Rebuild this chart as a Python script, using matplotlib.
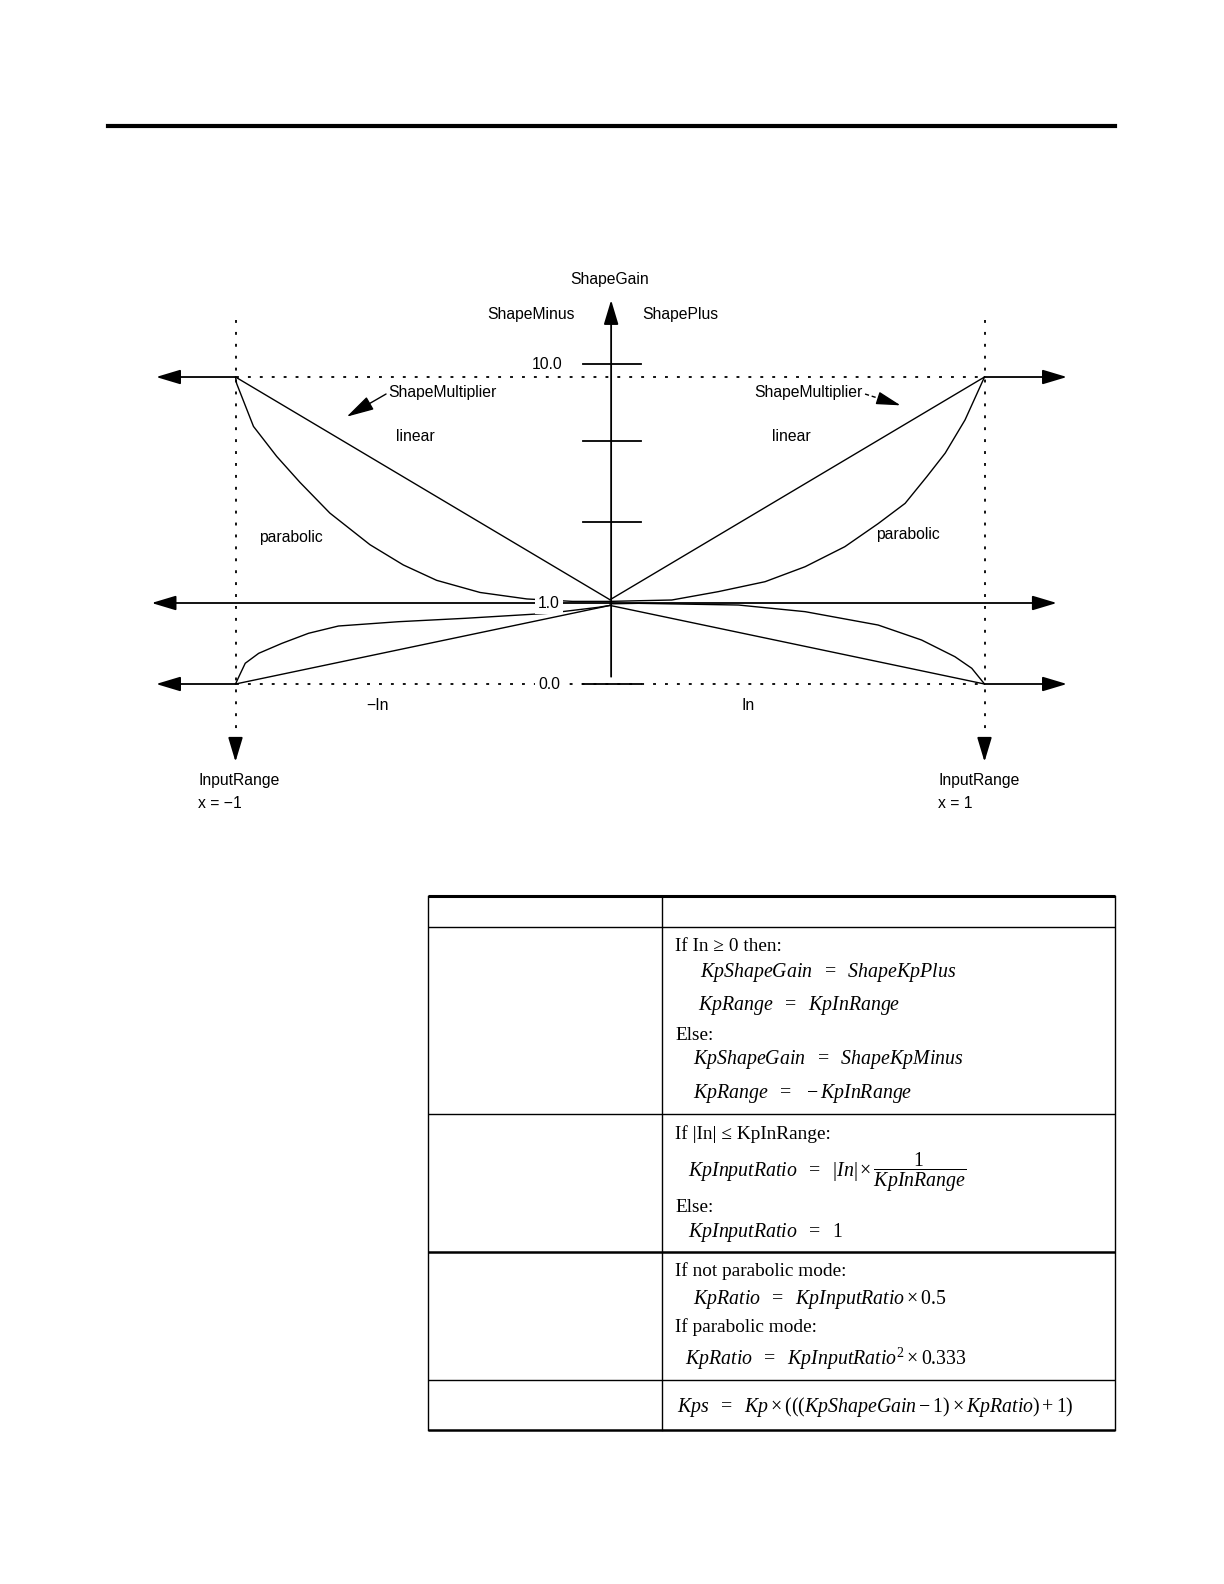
import numpy as np
import matplotlib.pyplot as plt
from matplotlib.lines import Line2D

plt.rcParams['mathtext.fontset'] = 'custom'
plt.rcParams['mathtext.rm'] = 'Liberation Serif'
plt.rcParams['mathtext.it'] = 'Liberation Serif:italic'

SANS = ['Liberation Sans Narrow', 'Liberation Sans', 'DejaVu Sans']
SERIF = ['Liberation Serif', 'DejaVu Serif']

# ---------------------------
# Diagram data (x = In / InputRange, y = schematic gain position)
# ---------------------------
top_level = 3.79          # ShapeMultiplier level
gain_ticks = [2.0, 3.0, 3.95]
gain_tick_labels = ['', '', '10.0']

upper_left_par_x = [-1.0, -0.997, -0.952, -0.89, -0.828, -0.748, -0.641, -0.552, -0.463,
                    -0.347, -0.222, -0.1, 0.0]
upper_left_par_y = [3.79, 3.71, 3.18, 2.81, 2.49, 2.11, 1.72, 1.47, 1.28,
                    1.13, 1.05, 1.02, 1.02]

upper_right_par_x = [0.0, 0.165, 0.289, 0.414, 0.521, 0.627, 0.716, 0.788, 0.846,
                     0.895, 0.948, 1.0]
upper_right_par_y = [1.02, 1.037, 1.14, 1.263, 1.448, 1.695, 1.98, 2.23, 2.56,
                     2.85, 3.26, 3.79]

lower_left_par_x = [-1.0, -0.99, -0.974, -0.938, -0.876, -0.805, -0.725, -0.565, -0.387,
                    -0.164, -0.031, 0.0]
lower_left_par_y = [0.0, 0.1, 0.256, 0.379, 0.502, 0.626, 0.716, 0.769, 0.811,
                    0.873, 0.947, 0.97]

lower_right_par_x = [0.0, 0.076, 0.343, 0.521, 0.716, 0.832, 0.921, 0.966, 1.0]
lower_right_par_y = [0.99, 0.996, 0.975, 0.893, 0.728, 0.543, 0.337, 0.194, 0.0]

linear_x = [-1.0, 0.0, 1.0]
linear_upper_y = [3.79, 1.04, 3.79]
linear_lower_y = [0.0, 0.97, 0.0]

# ---------------------------
# Table data
# ---------------------------
row_heights = [31.2, 187.0, 138.0, 128.5, 49.7]
table_lines = [
    "If In \u2265 0 then:",
    r"$KpShapeGain\ \ =\ \ ShapeKpPlus$",
    r"$KpRange\ \ =\ \ KpInRange$",
    "Else:",
    r"$KpShapeGain\ \ =\ \ ShapeKpMinus$",
    r"$KpRange\ \ =\ \ -KpInRange$",
    "If |In| \u2264 KpInRange:",
    r"$KpInputRatio\ \ =\ \ |In|\times\dfrac{1}{KpInRange}$",
    "Else:",
    r"$KpInputRatio\ \ =\ \ 1$",
    "If not parabolic mode:",
    r"$KpRatio\ \ =\ \ KpInputRatio\times0.5$",
    "If parabolic mode:",
    r"$KpRatio\ \ =\ \ KpInputRatio^2\times0.333$",
    r"$Kps\ \ =\ \ Kp\times(((KpShapeGain-1)\times KpRatio)+1)$",
]
table_line_x = [247, 272, 270, 247, 265, 265, 247, 260, 247, 260, 247, 265, 247, 257, 249]
table_line_y = [51, 77, 110, 140, 164, 198, 238, 277, 312, 337, 375, 404, 431, 463, 511]

W, H = 1224, 1584
fig = plt.figure(figsize=(W / 100, H / 100), dpi=100)


def px_axes(left, top, right, bottom):
    return fig.add_axes([left / W, 1 - bottom / H, (right - left) / W, (bottom - top) / H])


# page rule
fig.add_artist(Line2D([108 / W, 1115 / W], [1 - 126 / H, 1 - 126 / H], color='k', lw=3.0))

# ---------------------------
# Diagram
# ---------------------------
ax = px_axes(123.15, 262.8, 1096.85, 813.6)
ax.set_xlim(-1.3, 1.3)
ax.set_ylim(-1.6, 5.2)
ax.axis('off')

HEAD = '-|>,head_length=1.5,head_width=0.45'


def arrow(x0, y0, x1, y1, style=HEAD, lw=1.3):
    ax.annotate('', xy=(x1, y1), xytext=(x0, y0), annotation_clip=False,
                arrowprops=dict(arrowstyle=style, lw=lw, color='k', shrinkA=0, shrinkB=0))


dots = (0, (1.6, 5))
# dotted guides
ax.plot([-1, 1], [top_level, top_level], color='k', lw=1.3, ls=dots)
ax.plot([-1, 1], [0, 0], color='k', lw=1.3, ls=dots)
for xv in (-1, 1):
    ax.plot([xv, xv], [4.49, -0.73], color='k', lw=1.3, ls=dots)
    arrow(xv, -0.72, xv, -0.96)

# horizontal arrows
arrow(-1, top_level, -1.212, top_level)
arrow(1, top_level, 1.22, top_level)
arrow(-1, 0, -1.212, 0)
arrow(1, 0, 1.22, 0)
arrow(-1.224, 1.0, 1.193, 1.0, style='<|-|>,head_length=1.5,head_width=0.45')

# vertical ShapeGain axis with ticks
arrow(0.003, 0.09, 0.003, 4.74)
for t in gain_ticks + [0.0]:
    ax.plot([-0.072, 0.083], [t, t], color='k', lw=1.3)

fs = 11.3
for t, lab in zip(gain_ticks, gain_tick_labels):
    if lab:
        ax.text(-0.126, t, lab, ha='right', va='center', fontsize=fs, family=SANS)

# curves
ax.plot(linear_x, linear_upper_y, color='k', lw=1.0)
ax.plot(linear_x, linear_lower_y, color='k', lw=1.0)
ax.plot(upper_left_par_x, upper_left_par_y, color='k', lw=1.0)
ax.plot(upper_right_par_x, upper_right_par_y, color='k', lw=1.0)
ax.plot(lower_left_par_x, lower_left_par_y, color='k', lw=1.0)
ax.plot(lower_right_par_x, lower_right_par_y, color='k', lw=1.0)

# level labels with white background
for yv, lab in [(1.0, '1.0'), (0.0, '0.0')]:
    ax.text(-0.163, yv, lab, ha='center', va='center', fontsize=fs, family=SANS,
            bbox=dict(boxstyle='square,pad=0.2', fc='white', ec='none'), zorder=5)

# text labels
ax.text(0.0, 5.0, 'ShapeGain', ha='center', va='center', fontsize=fs, family=SANS)
ax.text(-0.093, 4.56, 'ShapeMinus', ha='right', va='center', fontsize=fs, family=SANS)
ax.text(0.087, 4.56, 'ShapePlus', ha='left', va='center', fontsize=fs, family=SANS)
ax.text(-0.593, 3.6, 'ShapeMultiplier', ha='left', va='center', fontsize=fs, family=SANS)
ax.text(0.385, 3.6, 'ShapeMultiplier', ha='left', va='center', fontsize=fs, family=SANS)
ax.text(-0.571, 3.05, 'linear', ha='left', va='center', fontsize=fs, family=SANS)
ax.text(0.432, 3.05, 'linear', ha='left', va='center', fontsize=fs, family=SANS)
ax.text(-0.937, 1.81, 'parabolic', ha='left', va='center', fontsize=fs, family=SANS)
ax.text(0.71, 1.84, 'parabolic', ha='left', va='center', fontsize=fs, family=SANS)
ax.text(-0.622, -0.26, '\u2212In', ha='center', va='center', fontsize=fs, family=SANS)
ax.text(0.368, -0.26, 'In', ha='center', va='center', fontsize=fs, family=SANS)
ax.text(-1.1, -1.19, 'InputRange', ha='left', va='center', fontsize=fs, family=SANS)
ax.text(-1.1, -1.47, 'x = \u22121', ha='left', va='center', fontsize=fs, family=SANS)
ax.text(0.876, -1.19, 'InputRange', ha='left', va='center', fontsize=fs, family=SANS)
ax.text(0.876, -1.47, 'x = 1', ha='left', va='center', fontsize=fs, family=SANS)

# ShapeMultiplier pointers
arrow(-0.598, 3.58, -0.703, 3.30, style='-|>,head_length=1.7,head_width=0.45', lw=1.0)
ax.plot([0.681, 0.722], [3.58, 3.52], color='k', lw=1.0, ls=(0, (3, 2)))
arrow(0.722, 3.52, 0.776, 3.44, style='-|>,head_length=1.5,head_width=0.4', lw=1.0)

# ---------------------------
# Table
# ---------------------------
tw = 687.0
th = float(np.sum(row_heights))
tax = px_axes(428, 895.8, 428 + tw, 895.8 + th)
tax.set_xlim(0, tw)
tax.set_ylim(th, 0)
tax.axis('off')

bounds = np.concatenate([[0.0], np.cumsum(row_heights)])
widths = [2.2, 1.0, 1.0, 1.8, 1.0, 1.8]
for b, w in zip(bounds, widths):
    tax.plot([0, tw], [b, b], color='k', lw=w, clip_on=False, solid_capstyle='butt')
for xv in (0, 233.5, tw):
    tax.plot([xv, xv], [0, th], color='k', lw=1.0, clip_on=False)

for txt, xv, yv in zip(table_lines, table_line_x, table_line_y):
    size = 14.3 if txt.startswith('$') else 13.9
    tax.text(xv, yv, txt, ha='left', va='center', fontsize=size, family=SERIF)

fig.savefig('out.png', dpi=100)
